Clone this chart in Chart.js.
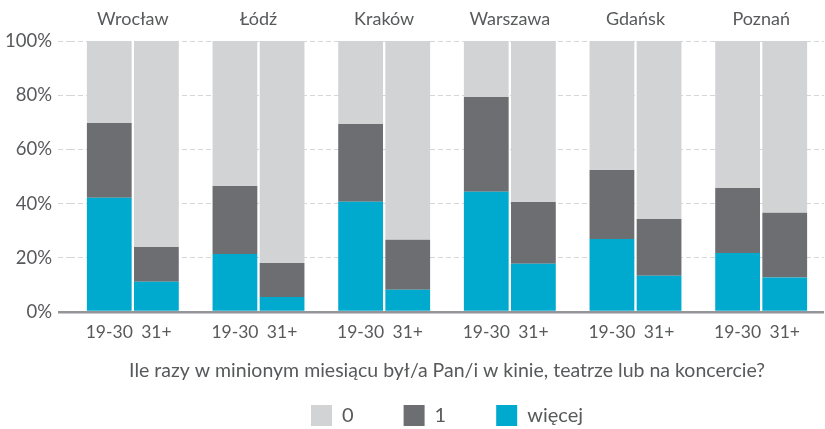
<!DOCTYPE html>
<html lang="pl">
<head>
<meta charset="utf-8">
<title>Kino, teatr, koncert</title>
<script src="https://cdn.jsdelivr.net/npm/chart.js@4/dist/chart.umd.min.js"></script>
<style>
  html, body { margin: 0; padding: 0; background: #fff; }
  #wrap { width: 825px; height: 429px; }
</style>
</head>
<body>
<div id="wrap"><canvas id="kinoChart" width="825" height="429"></canvas></div>
<script>
// dane (w %)
const miasta = ['Wrocław', 'Łódź', 'Kraków', 'Warszawa', 'Gdańsk', 'Poznań'];
const grupyWieku = ['19-30', '31+'];
const yTicks = [0, 20, 40, 60, 80, 100];

// 19-30
const wiecej1930 = [42.2, 21.4, 40.7, 44.4, 26.9, 21.8];
const jeden1930  = [27.5, 25.1, 28.7, 34.9, 25.5, 24.0];
const zero1930   = [30.3, 53.5, 30.6, 20.7, 47.6, 54.2];
// 31+
const wiecej31 = [11.2, 5.5, 8.2, 17.8, 13.4, 12.7];
const jeden31  = [12.8, 12.6, 18.5, 22.8, 20.9, 23.9];
const zero31   = [76.0, 81.9, 73.3, 59.4, 65.7, 63.4];

const FONT = "'Lato', sans-serif";
const TXT = '#58595b';
const C_ZERO = '#d1d3d4', C_JEDEN = '#6d6e71', C_WIECEJ = '#00a9ce';

document.addEventListener('DOMContentLoaded', function () {

    // podpisy 19-30 / 31+ pod każdym słupkiem
    const podpisyGrup = {
        id: 'podpisyGrup',
        afterDatasetsDraw(chart) {
            const ctx = chart.ctx;
            ctx.save();
            ctx.font = '17.5px ' + FONT;
            ctx.fillStyle = TXT;
            ctx.textAlign = 'center';
            ctx.textBaseline = 'middle';
            [0, 3].forEach((dsIndex, g) => {
                chart.getDatasetMeta(dsIndex).data.forEach(bar => {
                    ctx.fillText(grupyWieku[g], bar.x, chart.chartArea.bottom + 20);
                });
            });
            ctx.restore();
        }
    };

    const bar = (label, data, color, stack) => ({
        label, data, stack,
        backgroundColor: color,
        borderWidth: 0
    });

    const isZero = c => c.tick && c.tick.value === 0;

    new Chart(document.getElementById('kinoChart'), {
        type: 'bar',
        data: {
            labels: miasta,
            datasets: [
                bar('więcej', wiecej1930, C_WIECEJ, 'a'),
                bar('1', jeden1930, C_JEDEN, 'a'),
                bar('0', zero1930, C_ZERO, 'a'),
                bar('więcej', wiecej31, C_WIECEJ, 'b'),
                bar('1', jeden31, C_JEDEN, 'b'),
                bar('0', zero31, C_ZERO, 'b')
            ]
        },
        options: {
            responsive: false,
            animation: false,
            categoryPercentage: 0.75,
            barPercentage: 0.95,
            layout: { padding: { left: 0, right: 1, top: 0, bottom: -7 } },
            plugins: {
                tooltip: { enabled: false },
                legend: {
                    position: 'bottom',
                    fullSize: false,
                    reverse: true,
                    labels: {
                        filter: item => item.datasetIndex < 3,
                        boxWidth: 21,
                        boxHeight: 21,
                        padding: 50,
                        color: TXT,
                        font: { family: FONT, size: 20 }
                    }
                }
            },
            scales: {
                x: {
                    stacked: true,
                    position: 'bottom',
                    grid: { display: false },
                    border: { display: false },
                    ticks: { display: false },
                    title: {
                        display: true,
                        text: 'Ile razy w minionym miesiącu był/a Pan/i w kinie, teatrze lub na koncercie?',
                        color: TXT,
                        font: { family: FONT, size: 19.5 },
                        padding: { top: 0, bottom: -27 }
                    },
                    afterFit: s => { s.height = 43; }
                },
                x2: {
                    type: 'category',
                    position: 'top',
                    offset: true,
                    grid: { display: false, drawTicks: false },
                    border: { display: false },
                    ticks: {
                        color: TXT,
                        padding: 11,
                        font: { family: FONT, size: 18 }
                    },
                    afterFit: s => { s.height = 41; }
                },
                y: {
                    stacked: true,
                    min: 0,
                    max: 100,
                    afterBuildTicks: s => { s.ticks = yTicks.map(v => ({ value: v })); },
                    ticks: {
                        color: TXT,
                        padding: 6,
                        font: { family: FONT, size: 18.5 },
                        callback: v => v + '%'
                    },
                    grid: {
                        drawTicks: true,
                        tickLength: 12,
                        color: c => isZero(c) ? '#939598' : '#d6d6d6',
                        tickColor: c => isZero(c) ? '#939598' : '#d6d6d6',
                        lineWidth: c => isZero(c) ? 2.5 : 1,
                        tickWidth: c => isZero(c) ? 2.5 : 1,
                        tickBorderDash: c => isZero(c) ? [] : [5, 3]
                    },
                    border: {
                        display: false,
                        dash: c => isZero(c) ? [] : [5, 3]
                    },
                    afterFit: s => { s.width = 70; }
                }
            }
        },
        plugins: [podpisyGrup]
    });
});
</script>
</body>
</html>
